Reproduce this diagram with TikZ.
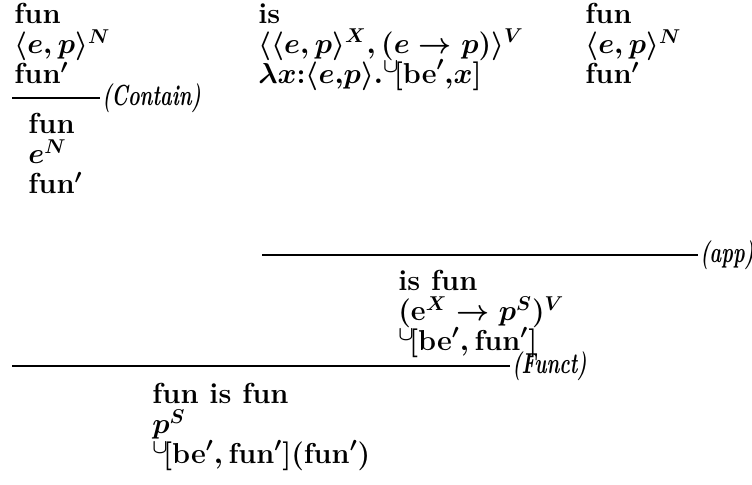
\documentclass[tikz,border=0pt]{standalone}
\usepackage{amsmath}
\usepackage{graphicx}
\usepackage{tikz}
\usetikzlibrary{positioning}
\newcommand{\seqfont}{\fontsize{14.5}{15}\selectfont\lineskiplimit=-20pt\bfseries\boldmath}
\newcommand{\rulefont}{\fontsize{14.5}{15}\selectfont\bfseries\itshape}
\newcommand{\rulelabel}[1]{\scalebox{0.68}[1]{(#1)}}

\begin{document}
\begin{tikzpicture}[x=0.5pt, y=-0.5pt,
    sequent/.style={anchor=north west, inner sep=0pt, align=left, font=\seqfont},
    rulename/.style={anchor=west, inner sep=1pt, font=\rulefont},
    ruleline/.style={line width=0.9pt}]
  \useasboundingbox (0,0) rectangle (752,485);
  % premises
  \node[sequent] (funA) at (14,3) {fun\\ $\langle e,p\rangle^N$\\ fun$'$};
  \node[sequent] (is) at (258,3) {is\\ $\langle\langle e,p\rangle^X,(e\rightarrow p)\rangle^V$\\ $\lambda x{:}\langle e,\!p\rangle.{}^{\cup}\![\mathbf{be}',\!x]$};
  \node[sequent] (funB) at (585,3) {fun\\ $\langle e,p\rangle^N$\\ fun$'$};
  % Contain
  \coordinate (contL) at (12,98);
  \coordinate (contR) at (100,98);
  \draw[ruleline] (contL) -- (contR);
  \node[rulename] (contain) at (contR) {\rulelabel{Contain}};
  \node[sequent] (funC) at (28,113) {fun\\ $e^N$\\ fun$'$};
  % app
  \coordinate (appL) at (262,255);
  \coordinate (appR) at (698,255);
  \draw[ruleline] (appL) -- (appR);
  \node[rulename] (app) at (appR) {\rulelabel{app}};
  \node[sequent] (isfun) at (398,270) {is fun\\ $(\mathrm{e}^X\rightarrow p^S)^V$\\ ${}^{\cup}\![\mathbf{be}',\mathbf{fun}']$};
  % Funct
  \coordinate (functL) at (12,366);
  \coordinate (functR) at (510,366);
  \draw[ruleline] (functL) -- (functR);
  \node[rulename] (funct) at (functR) {\rulelabel{Funct}};
  \node[sequent] (funisfun) at (152,383) {fun is fun\\ $p^S$\\ ${}^{\cup}\![\mathbf{be}',\mathbf{fun}'](\mathbf{fun}')$};
\end{tikzpicture}
\end{document}
